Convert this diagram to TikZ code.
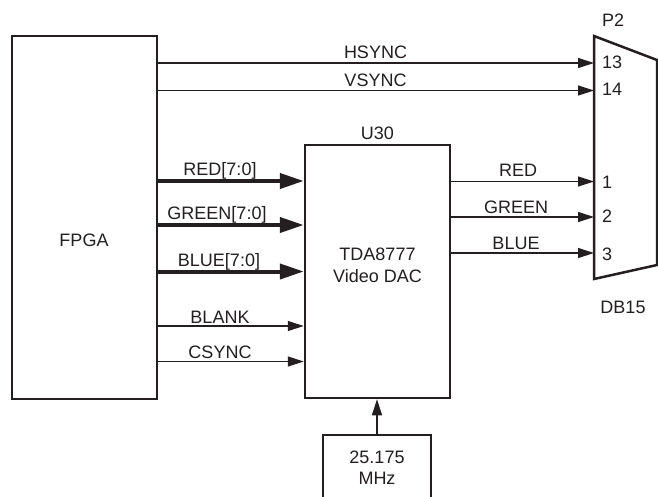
\documentclass[tikz,border=0pt]{standalone}
\usepackage{fontspec}
\setmainfont{Liberation Sans}
\usetikzlibrary{arrows.meta}
\definecolor{ink}{HTML}{231F20}
\begin{document}
\begin{tikzpicture}[x=1pt,y=-1pt,
  font=\fontsize{18}{21}\selectfont,
  box/.style={draw=ink, line width=2.5pt, inner sep=0pt, align=center},
  sig/.style={draw=ink, line width=1.2pt, -{Triangle[length=16pt,width=10pt]}},
  bus/.style={draw=ink, line width=4pt, -{Triangle[length=24pt,width=15pt]}},
  lbl/.style={text=ink, inner sep=0pt, anchor=base},
  pin/.style={text=ink, inner sep=0pt, anchor=base west}]
\clip (0,0) rectangle (658,496);
\fill[white] (0,0) rectangle (658,496);
% blocks
\node[box, minimum width=145pt, minimum height=363pt] (fpga) at (84.5,217.5) {};
\node[lbl] (fpgat) at (84,246.5) {FPGA};
\node[box, minimum width=145pt, minimum height=253pt] (dac) at (377.5,271.5) {};
\node[lbl] (dact1) at (377.5,260) {TDA8777};
\node[lbl] (dact2) at (377.5,282) {Video DAC};
\node[lbl] (u30) at (377.5,139) {U30};
\node[box, minimum width=108pt, minimum height=80pt] (clk) at (377,475) {};
\node[lbl] (clkt1) at (377,463) {25.175};
\node[lbl] (clkt2) at (377,484) {MHz};
% connector
\coordinate (c1) at (594,36);
\coordinate (c2) at (657,60);
\coordinate (c3) at (657,265);
\coordinate (c4) at (594,279);
\draw[ink, line width=2.5pt, line join=miter] (c1) -- (c2) -- (c3) -- (c4) -- cycle;
\node[lbl] (p2) at (613,26) {P2};
\node[lbl] (db15) at (623,313) {DB15};
\coordinate (pin13) at (594,63);
\coordinate (pin14) at (594,90.5);
\coordinate (pin1) at (594,181.5);
\coordinate (pin2) at (594,217);
\coordinate (pin3) at (594,253);
\node[pin] (n13) at (602,68) {13};
\node[pin] (n14) at (602,95) {14};
\node[pin] (n1) at (602,188) {1};
\node[pin] (n2) at (602,222) {2};
\node[pin] (n3) at (602,260) {3};
% FPGA -> connector
\draw[sig] (fpga.east |- pin13) -- (pin13);
\draw[sig] (fpga.east |- pin14) -- (pin14);
\node[lbl] at (375.5,58) {HSYNC};
\node[lbl] at (375.5,86) {VSYNC};
% buses
\coordinate (yr) at (0,181);
\coordinate (yg) at (0,225);
\coordinate (yb) at (0,271.5);
\coordinate (ybl) at (0,326);
\coordinate (ycs) at (0,361.5);
\draw[bus] (fpga.east |- yr) -- (dac.west |- yr);
\draw[bus] (fpga.east |- yg) -- (dac.west |- yg);
\draw[bus] (fpga.east |- yb) -- (dac.west |- yb);
\draw[sig] (fpga.east |- ybl) -- (dac.west |- ybl);
\draw[sig] (fpga.east |- ycs) -- (dac.west |- ycs);
\node[lbl] at (220,175) {RED[7:0]};
\node[lbl] at (217,219) {GREEN[7:0]};
\node[lbl] at (219,266) {BLUE[7:0]};
\node[lbl] at (220,323) {BLANK};
\node[lbl] at (220,358) {CSYNC};
% DAC -> connector
\draw[sig] (dac.east |- pin1) -- (pin1);
\draw[sig] (dac.east |- pin2) -- (pin2);
\draw[sig] (dac.east |- pin3) -- (pin3);
\node[lbl] at (518,176) {RED};
\node[lbl] at (516,213) {GREEN};
\node[lbl] at (516,249) {BLUE};
% clock
\draw[sig] (clk.north) -- (dac.south -| clk.north);
\end{tikzpicture}
\end{document}
